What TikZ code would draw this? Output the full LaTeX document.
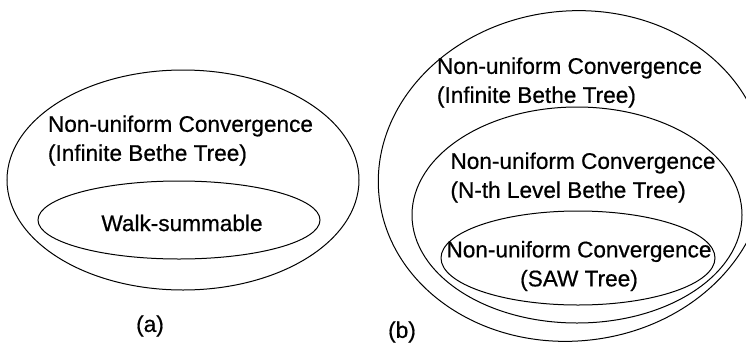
\documentclass[tikz,border=0pt]{standalone}
\usepackage{fontspec}
\setmainfont{Liberation Sans}[FakeBold=0.6]
\begin{document}
\begin{tikzpicture}[x=1pt,y=-1pt,
  set/.style={draw=black,line width=1pt},
  lbl/.style={inner sep=0pt,font=\fontsize{22.6}{29}\selectfont},
  captext/.style={inner sep=0pt,font=\fontsize{22.6}{29}\selectfont}]
\useasboundingbox (0,0) rectangle (746,343);
% (a)
\draw[set] (183,180) ellipse [x radius=176, y radius=110];
\draw[set] (179,220) ellipse [x radius=141, y radius=39];
\node[lbl,align=left] (aouter) at (180.5,140.5) {Non-uniform Convergence\\(Infinite Bethe Tree)};
\node[lbl] (ainner) at (182,223) {Walk-summable};
\node[captext] (acap) at (150,326) {(a)};
% (b)
\draw[set,rotate around={6:(572,176)}] (572,176) ellipse [x radius=194, y radius=165];
\draw[set] (577,215) ellipse [x radius=165, y radius=108];
\draw[set] (578,258) ellipse [x radius=137, y radius=47];
\node[lbl,align=left] (bouter) at (569.5,82.5) {Non-uniform Convergence\\(Infinite Bethe Tree)};
\node[lbl,align=left] (bmid) at (583,177.5) {Non-uniform Convergence\\(N-th Level Bethe Tree)};
\node[lbl,align=center] (binner) at (579,266) {Non-uniform Convergence\\(SAW Tree)};
\node[captext] (bcap) at (402,332) {(b)};
\end{tikzpicture}
\end{document}
